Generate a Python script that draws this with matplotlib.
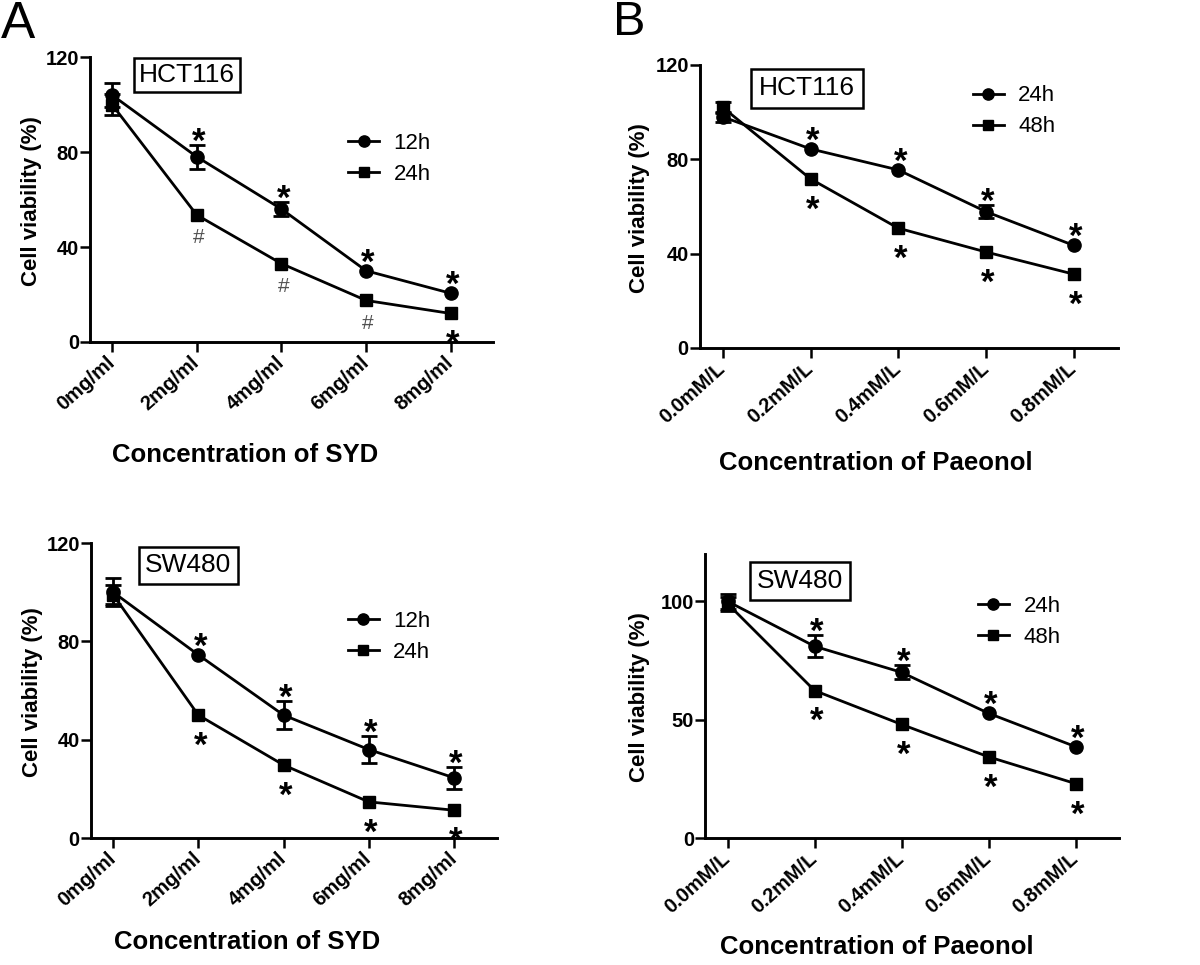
import matplotlib.pyplot as plt
import numpy as np

plt.rcParams["font.family"] = ["Liberation Sans", "DejaVu Sans"]

SYD_LABELS = ["0mg/ml", "2mg/ml", "4mg/ml", "6mg/ml", "8mg/ml"]
PAEONOL_LABELS = ["0.0mM/L", "0.2mM/L", "0.4mM/L", "0.6mM/L", "0.8mM/L"]

# SYD on HCT116 (12h / 24h)
HCT_SYD_12H = [104, 78, 56, 30, 20.5]
HCT_SYD_12H_SD = [5, 5, 3, 0, 0]
HCT_SYD_24H = [100, 53.5, 33, 17.5, 12]
HCT_SYD_24H_SD = [4.5, 0, 0, 0, 0]
HCT_SYD_UPPER = ["", "*", "*", "*", "*"]
HCT_SYD_LOWER = ["", "#", "#", "#", "*"]

# SYD on SW480 (12h / 24h)
SW_SYD_12H = [100, 74.5, 50, 36, 24.5]
SW_SYD_12H_SD = [5.8, 0, 5.8, 5.5, 4.5]
SW_SYD_24H = [99, 50, 29.7, 14.7, 11.3]
SW_SYD_24H_SD = [4, 0, 0, 0, 0]
SW_SYD_UPPER = ["", "*", "*", "*", "*"]
SW_SYD_LOWER = ["", "*", "*", "*", "*"]

# Paeonol on HCT116 (24h / 48h)
HCT_PAE_24H = [98, 84.4, 75.5, 57.8, 43.5]
HCT_PAE_24H_SD = [2, 0, 0, 2.7, 0]
HCT_PAE_48H = [102, 71.7, 50.8, 40.7, 31.3]
HCT_PAE_48H_SD = [2.2, 0, 0, 0, 0]
HCT_PAE_UPPER = ["", "*", "*", "*", "*"]
HCT_PAE_LOWER = ["", "*", "*", "*", "*"]

# Paeonol on SW480 (24h / 48h)
SW_PAE_24H = [100, 81, 70, 52.7, 38.6]
SW_PAE_24H_SD = [3.2, 4.6, 3, 0, 0]
SW_PAE_48H = [99, 62.3, 48, 34.3, 23]
SW_PAE_48H_SD = [3, 0, 0, 0, 0]
SW_PAE_UPPER = ["", "*", "*", "*", "*"]
SW_PAE_LOWER = ["", "*", "*", "*", "*"]

LW = 2.0
FIG_W, FIG_H = 1200, 965


def mark_text(ax, x, y, text, dy_px):
    # put the glyph's visual centre dy_px above/below (x, y)
    size = 25 if text == "*" else 15
    size_px = size * 100 / 72
    centre = 0.57 if text == "*" else 0.36
    ax.annotate(
        text, xy=(x, y), xytext=(2, dy_px - centre * size_px), textcoords="offset pixels",
        ha="center", va="baseline", fontsize=size,
        fontweight="bold" if text == "*" else "normal",
        color="black" if text == "*" else "#505050", zorder=5,
    )


def draw_panel(ax, labels, first, first_sd, second, second_sd, names, upper, lower,
               yticks, cell_line, box_pos, box_pad, legend_pos, ylabel_px, xlabel, xlabel_pos):
    x = np.arange(len(labels))
    ax.plot(x, first, color="black", lw=LW, marker="o", ms=9.5, label=names[0], zorder=3)
    ax.plot(x, second, color="black", lw=LW, marker="s", ms=9, label=names[1], zorder=3)
    for vals, sds in ((first, first_sd), (second, second_sd)):
        idx = [i for i, s in enumerate(sds) if s > 0]
        ax.errorbar(x[idx], np.take(vals, idx), yerr=np.take(sds, idx), fmt="none",
                    ecolor="black", elinewidth=LW, capsize=6, capthick=LW, zorder=4)

    ax.set_xlim(-0.26, 4.5)
    ax.set_ylim(0, 120)
    ax.set_yticks(yticks)
    ax.set_xticks(x)
    ax.set_xticklabels(labels, rotation=42, ha="right", va="center",
                       rotation_mode="anchor", fontweight="bold", fontsize=14.5)
    for lab in ax.get_yticklabels():
        lab.set_fontweight("bold")
        lab.set_fontsize(14.5)
    ax.tick_params(direction="out", length=7, width=1.8)
    ax.tick_params(axis="y", pad=1)
    ax.tick_params(axis="x", pad=6)
    for side in ("top", "right"):
        ax.spines[side].set_visible(False)
    for side in ("left", "bottom"):
        ax.spines[side].set_linewidth(2.1)

    ppu = ax.transData.transform((0, 1))[1] - ax.transData.transform((0, 0))[1]
    for i in range(len(labels)):
        if upper[i]:
            top = first[i] + first_sd[i]
            mark_text(ax, i, top, upper[i], max(13, 18 - first_sd[i] * ppu))
        if lower[i]:
            bottom = second[i] - second_sd[i]
            mark_text(ax, i, bottom, lower[i], -max(13, 21 - second_sd[i] * ppu))

    ax.text(box_pos[0], box_pos[1], cell_line, transform=ax.transAxes, ha="center",
            va="center", fontsize=19,
            bbox=dict(boxstyle=f"square,pad={box_pad}", fc="white", ec="black", lw=1.8))

    ax.legend(loc="center left", bbox_to_anchor=legend_pos, frameon=False, fontsize=16,
              handlelength=1.4, handletextpad=0.65, labelspacing=0.45, borderpad=0,
              borderaxespad=0, markerscale=0.85)

    pos = ax.get_position()
    ax.set_ylabel("Cell viability (%)", fontsize=16, fontweight="bold")
    ax.yaxis.label.set_va("center")
    ax.yaxis.set_label_coords((ylabel_px / FIG_W - pos.x0) / pos.width, 0.495)
    ax.set_xlabel(xlabel, fontsize=18.5, fontweight="bold")
    ax.xaxis.label.set_va("center")
    ax.xaxis.set_label_coords(*xlabel_pos)


def main() -> None:
    fig = plt.figure(figsize=(FIG_W / 100, FIG_H / 100), dpi=100)

    ax_a1 = fig.add_axes([0.075, 0.6456, 0.336, 0.2953])
    draw_panel(ax_a1, SYD_LABELS, HCT_SYD_12H, HCT_SYD_12H_SD, HCT_SYD_24H, HCT_SYD_24H_SD,
               ["12h", "24h"], HCT_SYD_UPPER, HCT_SYD_LOWER, [0, 40, 80, 120], "HCT116",
               (0.241, 0.937), 0.2, (0.64, 0.642), 32, "Concentration of SYD", (0.385, -0.396))

    ax_a2 = fig.add_axes([0.0758, 0.1316, 0.338, 0.3057])
    draw_panel(ax_a2, SYD_LABELS, SW_SYD_12H, SW_SYD_12H_SD, SW_SYD_24H, SW_SYD_24H_SD,
               ["12h", "24h"], SW_SYD_UPPER, SW_SYD_LOWER, [0, 40, 80, 120], "SW480",
               (0.24, 0.925), 0.25, (0.633, 0.683), 32, "Concentration of SYD", (0.384, -0.352))

    ax_b1 = fig.add_axes([0.5833, 0.6394, 0.348, 0.2933])
    draw_panel(ax_b1, PAEONOL_LABELS, HCT_PAE_24H, HCT_PAE_24H_SD, HCT_PAE_48H, HCT_PAE_48H_SD,
               ["24h", "48h"], HCT_PAE_UPPER, HCT_PAE_LOWER, [0, 40, 80, 120], "HCT116",
               (0.256, 0.917), 0.3, (0.653, 0.836), 639, "Concentration of Paeonol", (0.421, -0.406))

    ax_b2 = fig.add_axes([0.5875, 0.1316, 0.345, 0.2943])
    draw_panel(ax_b2, PAEONOL_LABELS, SW_PAE_24H, SW_PAE_24H_SD, SW_PAE_48H, SW_PAE_48H_SD,
               ["24h", "48h"], SW_PAE_UPPER, SW_PAE_LOWER, [0, 50, 100], "SW480",
               (0.229, 0.905), 0.25, (0.659, 0.76), 639, "Concentration of Paeonol", (0.415, -0.384))

    fig.text(1 / FIG_W, 1.0, "A", fontsize=37, ha="left", va="top")
    fig.text(613 / FIG_W, 1.0, "B", fontsize=35, ha="left", va="top")

    fig.savefig("out.png", dpi=100)
    plt.close(fig)


if __name__ == "__main__":
    main()
